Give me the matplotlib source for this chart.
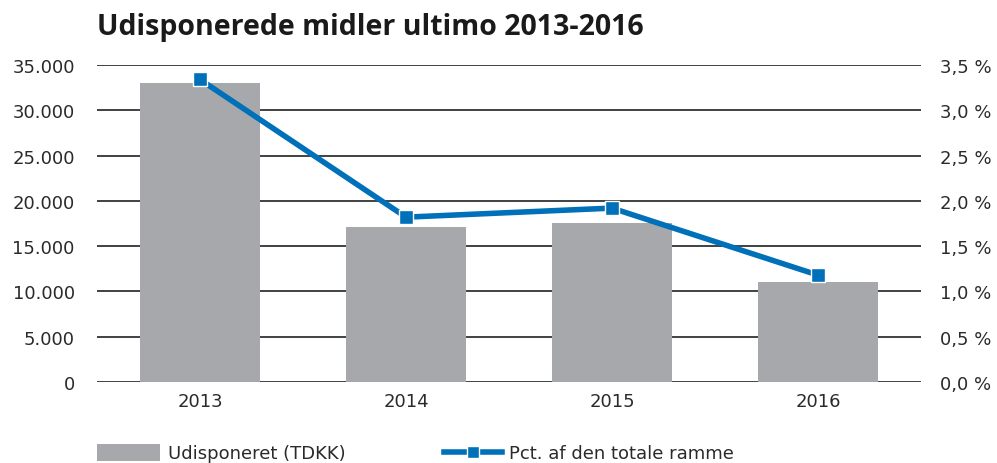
import matplotlib
matplotlib.use("Agg")
import matplotlib.pyplot as plt
from matplotlib.ticker import FuncFormatter
from matplotlib.patches import Patch
from matplotlib.lines import Line2D
import numpy as np

years = ["2013", "2014", "2015", "2016"]
udisponeret = [33000, 17100, 17550, 11050]
pct = [3.34, 1.82, 1.92, 1.18]
left_ticks = [0, 5000, 10000, 15000, 20000, 25000, 30000, 35000]
right_ticks = [0.0, 0.5, 1.0, 1.5, 2.0, 2.5, 3.0, 3.5]

plt.rcParams['font.family'] = ['DejaVu Sans']
W, H = 997, 464
fig = plt.figure(figsize=(W / 100, H / 100), dpi=100)
ax = fig.add_axes([97 / W, 1 - 383 / H, (921 - 97) / W, (383 - 66) / H])
ax2 = ax.twinx()

x = np.arange(len(years))
ax.bar(x, udisponeret, width=0.58, color='#a7a8ab', zorder=2)
ax.set_ylim(0, 35000)
ax.set_xlim(-0.5, 3.5)
ax.set_yticks(left_ticks)
ax.yaxis.set_major_formatter(FuncFormatter(lambda v, p: f"{int(v):,}".replace(",", ".")))
ax.set_xticks(x)
ax.set_xticklabels(years)
ax.grid(axis='y', color='#333333', linewidth=1.3, zorder=0)
ax.set_axisbelow(True)
for s in ax.spines.values():
    s.set_visible(False)
for s in ax2.spines.values():
    s.set_visible(False)
ax.tick_params(axis='both', length=0, labelsize=13, colors='#2a2a2a')
ax.tick_params(axis='y', pad=16)
ax.tick_params(axis='x', pad=7)

ax2.plot(x, pct, color='#0071b9', linewidth=4, marker='s', markersize=10,
         markerfacecolor='#0071b9', markeredgecolor='white', markeredgewidth=1, zorder=3)
ax2.set_ylim(0, 3.5)
ax2.set_yticks(right_ticks)
ax2.yaxis.set_major_formatter(FuncFormatter(lambda v, p: f"{v:.1f}".replace(".", ",") + " %"))
ax2.tick_params(axis='y', length=0, labelsize=13, colors='#2a2a2a', pad=14)

fig.text(97 / W, 1 - 27 / H, "Udisponerede midler ultimo 2013-2016", fontsize=20.5,
         fontweight='bold', family=['Open Sans', 'DejaVu Sans'], color='#1a1a1a',
         va='center', ha='left')

leg1 = fig.legend([Patch(facecolor='#a7a8ab', edgecolor='none')], ["Udisponeret (TDKK)"],
                  loc='center left', bbox_to_anchor=(97 / W, 1 - 454 / H), frameon=False,
                  fontsize=13, handlelength=3.5, handleheight=1.1, handletextpad=0.45,
                  borderpad=0, borderaxespad=0)
leg2 = fig.legend([Line2D([0], [0], color='#0071b9', linewidth=4, marker='s', markersize=8,
                          markeredgecolor='white', markeredgewidth=1)],
                  ["Pct. af den totale ramme"],
                  loc='center left', bbox_to_anchor=(444 / W, 1 - 454 / H), frameon=False,
                  fontsize=13, handlelength=3.2, handletextpad=0.4,
                  borderpad=0, borderaxespad=0)
for lg in (leg1, leg2):
    for t in lg.get_texts():
        t.set_color('#2a2a2a')

fig.savefig("out.png", dpi=100)
